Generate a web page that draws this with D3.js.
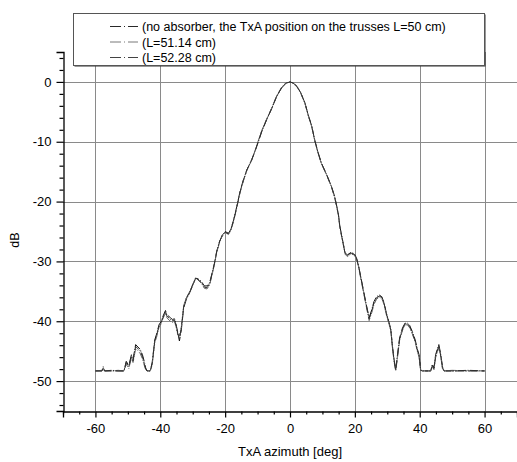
<!DOCTYPE html>
<html>
<head>
<meta charset="utf-8">
<script src="https://cdn.jsdelivr.net/npm/d3@7"></script>
<style>
  html, body { margin: 0; padding: 0; background: #fff; }
  svg { display: block; font-family: "Liberation Sans", Arial, sans-serif; }
</style>
</head>
<body>
<svg id="chart" width="517" height="462"></svg>
<script>
// Azimuth angles [deg] shared by all three measurements
const azimuth = [
  -60, -58, -57.6, -57.2, -55, -53, -51.2, -50.5, -49.7, -48.9,
  -48.4, -47.6, -46.9, -46.2, -45.5, -45.1, -44.5, -44.1, -43.1, -42.5,
  -41.7, -41.0, -40.4, -39.7, -39.2, -38.4, -38.0, -37.3, -36.9, -36.3,
  -35.6, -35.1, -34.6, -34.1, -33.5, -32.8, -32.0, -31.0, -29.9, -29.1,
  -28.4, -27.4, -26.4, -25.6, -24.8, -24.0, -23.3, -22.6, -21.7, -21.0,
  -20.0, -19.0, -18.3, -17.4, -16.4, -15.4, -14.4, -13.3, -11.8, -10.8,
  -9.7, -8.7, -7.2, -5.6, -4.1, -2.6, -1.2, 0, 1.0, 2.1,
  3.3, 4.6, 5.6, 6.7, 7.7, 8.7, 9.7, 11.3, 12.8, 13.8,
  14.9, 15.4, 16.2, 17.0, 17.7, 18.8, 19.8, 20.5, 21.1, 21.8,
  22.6, 23.4, 24.4, 25.2, 25.9, 26.7, 27.5, 28.3, 29.0, 29.7,
  30.6, 31.1, 31.6, 32.1, 32.6, 33.1, 33.8, 34.7, 35.5, 36.2,
  36.9, 37.7, 38.6, 39.3, 39.8, 40.3, 40.8, 43.4, 43.9, 44.4,
  44.9, 45.9, 46.5, 47.0, 47.5, 50, 55, 60
];

// Received level [dB], no absorber, TxA at L = 50 cm
const levelL50 = [
  -48.3, -48.3, -47.6, -48.3, -48.3, -48.3, -48.3, -46.7, -47.4, -45.6,
  -46.4, -43.9, -44.3, -44.7, -45.6, -46.4, -47.8, -48.3, -48.3, -46.9,
  -43.1, -41.9, -40.6, -40.0, -39.2, -38.2, -38.9, -39.2, -39.4, -39.7,
  -39.6, -40.6, -41.9, -43.3, -41.4, -37.8, -36.4, -35.3, -33.9, -32.8,
  -32.9, -33.3, -34.1, -34.1, -33.6, -31.9, -30.3, -28.3, -26.6, -25.9,
  -25.0, -25.3, -24.7, -23.1, -20.8, -18.3, -16.4, -14.7, -13.0, -11.6,
  -9.9, -8.3, -6.3, -4.4, -2.4, -1.0, -0.2, 0, -0.2, -0.7,
  -1.8, -3.5, -5.5, -7.4, -9.9, -11.9, -13.6, -15.5, -17.5, -19.2,
  -22.0, -24.2, -26.4, -28.6, -28.9, -28.5, -28.7, -29.4, -30.6, -32.5,
  -34.7, -36.9, -39.4, -38.1, -36.7, -35.9, -35.6, -35.9, -36.9, -38.6,
  -40.3, -41.4, -44.2, -46.4, -48.1, -45.8, -42.8, -41.1, -40.3, -40.3,
  -40.7, -41.7, -43.1, -44.7, -45.6, -48.1, -48.3, -48.3, -47.2, -47.8,
  -45.6, -43.9, -45.6, -47.5, -48.3, -48.3, -48.3, -48.3
];

// Received level [dB], L = 51.14 cm
const levelL5114 = [
  -48.3, -48.2, -48.0, -48.3, -48.3, -48.2, -48.3, -47.2, -47.9, -46.1,
  -46.9, -44.6, -44.9, -45.4, -46.3, -47.1, -48.1, -48.3, -48.3, -47.3,
  -43.6, -42.4, -41.0, -40.4, -39.6, -38.6, -39.4, -39.8, -40.0, -40.2,
  -40.1, -41.0, -42.3, -42.4, -40.9, -37.4, -36.1, -35.1, -33.7, -32.7,
  -33.1, -33.6, -34.5, -34.6, -34.0, -32.2, -30.5, -28.5, -26.8, -25.6,
  -25.1, -25.5, -24.9, -23.3, -21.0, -18.5, -16.6, -14.8, -13.1, -11.5,
  -9.7, -8.1, -6.2, -4.3, -2.3, -0.9, -0.1, -0.1, -0.3, -0.8,
  -1.9, -3.6, -5.6, -7.5, -10.0, -12.0, -13.7, -15.6, -17.6, -19.4,
  -22.2, -24.4, -26.6, -28.8, -29.2, -28.8, -28.9, -29.6, -30.8, -32.8,
  -35.0, -37.2, -39.9, -38.6, -37.2, -36.3, -36.0, -36.2, -37.2, -38.9,
  -40.6, -41.7, -44.5, -46.8, -48.3, -46.3, -43.2, -41.5, -40.6, -40.6,
  -41.1, -42.1, -43.5, -45.1, -46.0, -48.3, -48.3, -48.3, -47.6, -48.1,
  -46.1, -44.4, -46.0, -47.9, -48.3, -48.2, -48.3, -48.3
];

// Received level [dB], L = 52.28 cm
const levelL5228 = [
  -48.3, -48.3, -47.8, -48.3, -48.2, -48.3, -48.3, -46.9, -47.6, -45.9,
  -46.6, -44.2, -44.6, -45.0, -45.9, -46.7, -48.0, -48.3, -48.3, -47.1,
  -43.3, -42.1, -40.8, -40.2, -39.4, -38.4, -39.1, -39.5, -39.7, -39.9,
  -39.8, -40.8, -42.1, -42.9, -41.1, -37.6, -36.2, -35.2, -33.8, -32.8,
  -33.0, -33.5, -34.3, -34.4, -33.8, -32.0, -30.4, -28.4, -26.7, -25.7,
  -25.1, -25.4, -24.8, -23.2, -20.9, -18.4, -16.5, -14.7, -13.0, -11.6,
  -9.8, -8.2, -6.3, -4.4, -2.4, -1.0, -0.2, 0, -0.2, -0.7,
  -1.8, -3.5, -5.5, -7.4, -9.9, -11.9, -13.6, -15.5, -17.5, -19.3,
  -22.1, -24.3, -26.5, -28.7, -29.0, -28.6, -28.8, -29.5, -30.7, -32.6,
  -34.8, -37.0, -39.6, -38.3, -36.9, -36.1, -35.8, -36.0, -37.0, -38.7,
  -40.4, -41.5, -44.3, -46.6, -48.2, -46.0, -43.0, -41.3, -40.4, -40.4,
  -40.9, -41.9, -43.3, -44.9, -45.8, -48.2, -48.3, -48.3, -47.4, -48.0,
  -45.8, -44.1, -45.8, -47.7, -48.3, -48.3, -48.2, -48.3
];

const seriesNames = [
  "(no absorber, the TxA position on the trusses L=50 cm)",
  "(L=51.14 cm)",
  "(L=52.28 cm)"
];
const seriesColors = ["#111111", "#6a6a6a", "#2e2e2e"];
const seriesDash = ["9,1.5,1,1.5", "7,1.5,1,1.5", "8,1.5,1,1.5"];

const xMajorTicks = [-60, -40, -20, 0, 20, 40, 60];
const yMajorTicks = [0, -10, -20, -30, -40, -50];

const xAxisLabel = "TxA azimuth [deg]";
const yAxisLabel = "dB";

const svg = d3.select("#chart");
const plot = { left: 63, right: 517, top: 52, bottom: 411 };

const x = d3.scaleLinear().domain([-70, 70]).range([plot.left, plot.right]);
const y = d3.scaleLinear().domain([-55, 5]).range([plot.bottom, plot.top]);

// Tick labels use a plain hyphen for negative numbers
const tickFmt = d => String(d);

// Grid
const grid = svg.append("g").attr("stroke", "#8a8a8a").attr("stroke-width", 1);
grid.selectAll("line.v").data(xMajorTicks).join("line")
  .attr("x1", d => Math.round(x(d)) + 0.5).attr("x2", d => Math.round(x(d)) + 0.5)
  .attr("y1", plot.top).attr("y2", plot.bottom);
grid.selectAll("line.h").data(yMajorTicks).join("line")
  .attr("y1", d => Math.round(y(d)) + 0.5).attr("y2", d => Math.round(y(d)) + 0.5)
  .attr("x1", plot.left).attr("x2", plot.right);

// Curves
const line = d3.line()
  .x((d, i) => x(azimuth[i]))
  .y(d => y(d));

const allLevels = [levelL50, levelL5114, levelL5228];
svg.append("g").selectAll("path").data(allLevels).join("path")
  .attr("fill", "none")
  .attr("stroke", (d, i) => seriesColors[i])
  .attr("stroke-width", 1)
  .attr("stroke-dasharray", (d, i) => seriesDash[i])
  .attr("d", line);

// Axes
const minorX = d3.range(-70, 71, 5).filter(v => !xMajorTicks.includes(v));
const minorY = d3.range(-54, 5, 2).filter(v => !yMajorTicks.includes(v));

const xAxisG = svg.append("g").attr("transform", `translate(0,${plot.bottom + 0.5})`);
xAxisG.call(d3.axisBottom(x).tickValues(xMajorTicks).tickSize(6).tickPadding(6).tickFormat(tickFmt));
xAxisG.append("g").call(d3.axisBottom(x).tickValues(minorX).tickSize(3).tickFormat(""))
  .select(".domain").remove();

const yAxisG = svg.append("g").attr("transform", `translate(${plot.left + 0.5},0)`);
yAxisG.call(d3.axisLeft(y).tickValues(yMajorTicks).tickSize(7).tickPadding(5).tickFormat(tickFmt));
yAxisG.append("g").call(d3.axisLeft(y).tickValues(minorY).tickSize(4).tickFormat(""))
  .select(".domain").remove();

svg.selectAll(".domain").attr("stroke", "#000").attr("stroke-width", 1.3);
svg.selectAll(".tick line").attr("stroke", "#000").attr("stroke-width", 1.2);
svg.selectAll(".tick text")
  .attr("font-family", "Liberation Sans, Arial, sans-serif")
  .attr("font-size", 13).attr("fill", "#000");

// Axis titles
svg.append("text")
  .attr("x", x(0)).attr("y", 456)
  .attr("text-anchor", "middle").attr("font-size", 13)
  .text(xAxisLabel);
svg.append("text")
  .attr("transform", `translate(19,240) rotate(-90)`)
  .attr("text-anchor", "middle").attr("font-size", 12.5)
  .text(yAxisLabel);

// Legend
const legend = svg.append("g");
const lg = { x: 73, y: 13, w: 411, h: 52 };
legend.append("rect")
  .attr("x", lg.x + 1.5).attr("y", lg.y + 1.5).attr("width", lg.w).attr("height", lg.h)
  .attr("fill", "#333");
legend.append("rect")
  .attr("x", lg.x + 0.5).attr("y", lg.y + 0.5).attr("width", lg.w).attr("height", lg.h)
  .attr("fill", "#fff").attr("stroke", "#555").attr("stroke-width", 1);
seriesNames.forEach((name, i) => {
  const ry = lg.y + 13.5 + i * 15.5;
  legend.append("line")
    .attr("x1", 110).attr("x2", 138)
    .attr("y1", ry).attr("y2", ry)
    .attr("stroke", seriesColors[i]).attr("stroke-width", 0.9)
    .attr("stroke-dasharray", "11,3,1,3,10");
  legend.append("text")
    .attr("x", 142).attr("y", ry + 4.5)
    .attr("font-size", 12.5).attr("fill", "#000")
    .text(name);
});
</script>
</body>
</html>
